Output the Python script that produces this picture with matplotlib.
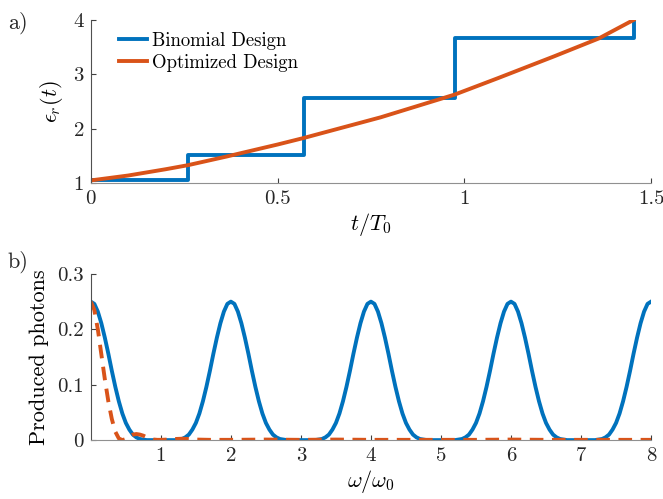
import matplotlib
matplotlib.use('Agg')
import matplotlib.pyplot as plt

plt.rcParams['font.family'] = ['cmr10', 'DejaVu Serif']
plt.rcParams['mathtext.fontset'] = 'cm'
plt.rcParams['axes.formatter.use_mathtext'] = True

blue = '#0072BD'
orange = '#D95319'

# panel a) permittivity profiles
t_binomial = [0, 0.26, 0.57, 0.975, 1.453, 1.453]
eps_binomial = [1.05, 1.51, 2.57, 3.66, 3.66, 4.0]

t_optimized = [0, 0.1, 0.2, 0.26, 0.364, 0.5, 0.57, 0.776, 0.975, 1.09, 1.24, 1.36, 1.453]
eps_optimized = [1.05, 1.14, 1.255, 1.33, 1.49, 1.71, 1.83, 2.21, 2.63, 2.93, 3.33, 3.66, 4.0]

# panel b) produced photons vs frequency
omega_binomial = [i * 0.05 for i in range(161)]
n_binomial = [
    0.250, 0.246, 0.232, 0.211, 0.185, 0.156, 0.125, 0.096, 0.070, 0.048,
    0.031, 0.019, 0.010, 0.005, 0.002, 0.001, 0.000, 0.000, 0.000, 0.000,
    0.000, 0.000, 0.000, 0.000, 0.000, 0.001, 0.002, 0.005, 0.010, 0.019,
    0.031, 0.048, 0.070, 0.096, 0.125, 0.156, 0.185, 0.211, 0.232, 0.246,
    0.250, 0.246, 0.232, 0.211, 0.185, 0.156, 0.125, 0.096, 0.070, 0.048,
    0.031, 0.019, 0.010, 0.005, 0.002, 0.001, 0.000, 0.000, 0.000, 0.000,
    0.000, 0.000, 0.000, 0.000, 0.000, 0.001, 0.002, 0.005, 0.010, 0.019,
    0.031, 0.048, 0.070, 0.096, 0.125, 0.156, 0.185, 0.211, 0.232, 0.246,
    0.250, 0.246, 0.232, 0.211, 0.185, 0.156, 0.125, 0.096, 0.070, 0.048,
    0.031, 0.019, 0.010, 0.005, 0.002, 0.001, 0.000, 0.000, 0.000, 0.000,
    0.000, 0.000, 0.000, 0.000, 0.000, 0.001, 0.002, 0.005, 0.010, 0.019,
    0.031, 0.048, 0.070, 0.096, 0.125, 0.156, 0.185, 0.211, 0.232, 0.246,
    0.250, 0.246, 0.232, 0.211, 0.185, 0.156, 0.125, 0.096, 0.070, 0.048,
    0.031, 0.019, 0.010, 0.005, 0.002, 0.001, 0.000, 0.000, 0.000, 0.000,
    0.000, 0.000, 0.000, 0.000, 0.000, 0.001, 0.002, 0.005, 0.010, 0.019,
    0.031, 0.048, 0.070, 0.096, 0.125, 0.156, 0.185, 0.211, 0.232, 0.246,
    0.250,
]

omega_optimized = [0, 0.05, 0.1, 0.15, 0.2, 0.25, 0.3, 0.35, 0.4, 0.45, 0.5,
                   0.55, 0.6, 0.65, 0.7, 0.75, 0.8, 0.85, 0.9, 0.95, 1.0,
                   1.1, 1.2, 1.3, 1.4, 1.5, 1.7, 2.0, 2.5, 3.0, 3.5, 4.0,
                   4.5, 5.0, 5.5, 6.0, 6.5, 7.0, 7.5, 8.0]
n_optimized = [0.25, 0.235, 0.20, 0.155, 0.11, 0.07, 0.038, 0.015, 0.003, 0.0, 0.002,
               0.007, 0.010, 0.011, 0.010, 0.008, 0.005, 0.003, 0.001, 0.0005, 0.0005,
               0.001, 0.002, 0.0025, 0.002, 0.001, 0.0005, 0.0005, 0.001, 0.0005, 0.001, 0.0005,
               0.0005, 0.0005, 0.0005, 0.001, 0.0005, 0.0005, 0.0005, 0.0005]

fig = plt.figure(figsize=(6.63, 4.99), dpi=100)
ax1 = fig.add_axes([0.137, 0.633, 0.845, 0.327])
ax2 = fig.add_axes([0.137, 0.118, 0.845, 0.333])


def style(ax):
    ax.spines['top'].set_visible(False)
    ax.spines['right'].set_visible(False)
    ax.spines['left'].set_color('#505050')
    ax.spines['bottom'].set_color('#909090')
    ax.tick_params(direction='in', length=3.5, width=0.8, color='#404040',
                   labelsize=15, labelcolor='#262626', pad=5)


ax1.step(t_binomial, eps_binomial, where='post', color=blue, lw=2.8, label='Binomial Design')
ax1.plot(t_optimized, eps_optimized, color=orange, lw=2.8, label='Optimized Design')
ax1.set_xlim(0, 1.5)
ax1.set_ylim(1, 4)
ax1.set_xticks([0, 0.5, 1, 1.5])
ax1.set_xticklabels(['0', '0.5', '1', '1.5'])
ax1.set_yticks([1, 2, 3, 4])
ax1.set_yticklabels(['1', '2', '3', '4'])
ax1.set_xlabel(r'$t/T_0$', fontsize=16, labelpad=2)
ax1.set_ylabel(r'$\epsilon_r(t)$', fontsize=16, labelpad=6)
style(ax1)
ax1.legend(loc='upper left', bbox_to_anchor=(0.02, 1.03), frameon=False, fontsize=13.5,
           handlelength=1.5, handletextpad=0.25, labelspacing=0.2)

ax2.plot(omega_binomial, n_binomial, color=blue, lw=2.8)
ax2.plot(omega_optimized, n_optimized, color=orange, lw=2.8, linestyle=(0, (3.5, 2.2)))
ax2.set_xlim(0, 8)
ax2.set_ylim(0, 0.3)
ax2.set_xticks([1, 2, 3, 4, 5, 6, 7, 8])
ax2.set_xticklabels(['1', '2', '3', '4', '5', '6', '7', '8'])
ax2.set_yticks([0, 0.1, 0.2, 0.3])
ax2.set_yticklabels(['0', '0.1', '0.2', '0.3'])
ax2.set_xlabel(r'$\omega/\omega_0$', fontsize=16, labelpad=2)
ax2.set_ylabel('Produced photons', fontsize=16, labelpad=6)
style(ax2)

fig.text(0.012, 0.955, 'a)', fontsize=16, va='center', color='#262626')
fig.text(0.012, 0.475, 'b)', fontsize=16, va='center', color='#262626')

fig.savefig('out.png', dpi=100)
